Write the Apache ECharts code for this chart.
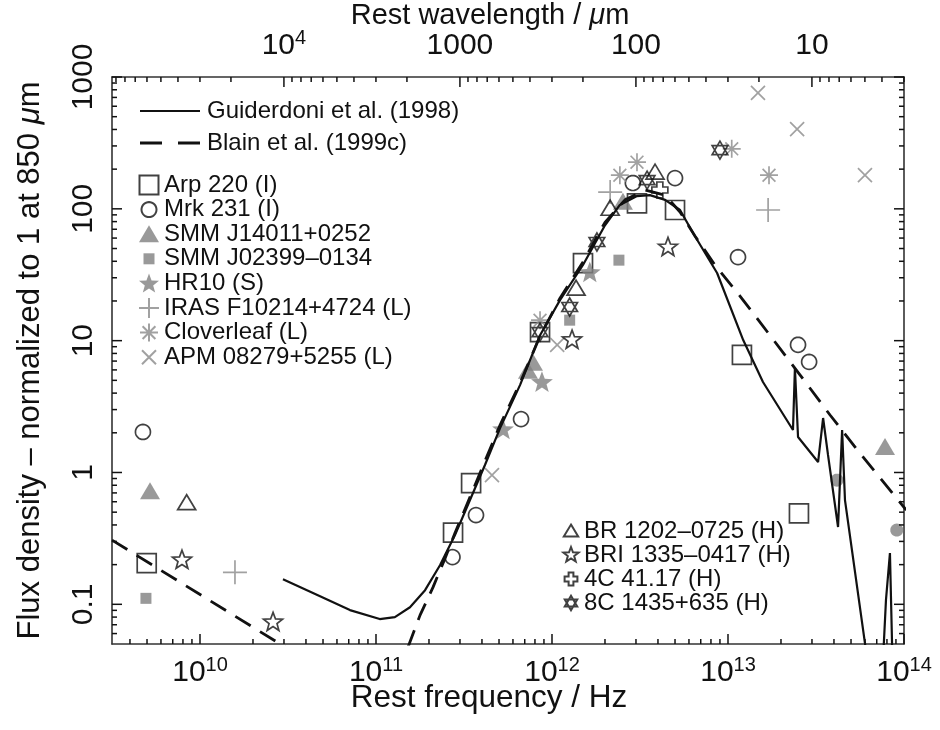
<!DOCTYPE html>
<html>
<head>
<meta charset="utf-8">
<title>SED comparison</title>
<script src="https://cdn.jsdelivr.net/npm/echarts@6/dist/echarts.min.js"></script>
<style>
html, body { margin: 0; padding: 0; background: #fff; }
#main { width: 940px; height: 730px; }
</style>
</head>
<body>
<div id="main"></div>
<script>
// c in micron*Hz, used for the top (wavelength) axis
const C_UM = 2.998e14;

// axis ranges
const freqRange = [3.1623e9, 1e14];
const fluxRange = [0.05, 1000];

// tick labels
const freqTicks = [1e10, 1e11, 1e12, 1e13, 1e14];
const waveTicks = [1e4, 1000, 100, 10];
const fluxTicks = [0.1, 1, 10, 100, 1000];
const fluxTickLabels = ['0.1', '1', '10', '100', '1000'];

// model curves, [rest frequency Hz, normalised flux]
const guiderdoni = [
  [2.96e10, 0.155], [4.81e10, 0.115], [7.11e10, 0.0904], [1.05e11, 0.0773], [1.28e11, 0.080],
  [1.56e11, 0.095], [1.90e11, 0.128], [2.31e11, 0.198], [2.81e11, 0.335], [3.42e11, 0.618],
  [4.16e11, 1.14], [5.07e11, 2.17], [6.58e11, 4.6], [8.55e11, 11.0], [1.11e12, 20.3],
  [1.50e12, 37.5], [2.00e12, 75], [2.43e12, 107], [3.04e12, 125], [3.60e12, 127],
  [4.39e12, 117], [5.34e12, 98], [6.33e12, 65.5], [8.67e12, 32.6], [1.22e13, 10.1],
  [1.58e13, 4.86], [2.34e13, 2.10], [2.40e13, 6.2], [2.50e13, 1.86], [3.25e13, 1.20],
  [3.47e13, 2.59], [3.70e13, 1.36], [4.22e13, 0.386], [4.45e13, 2.10], [4.62e13, 0.618],
  [6.0e13, 0.0508], [6.41e13, 0.0266], [7.5e13, 0.0266], [7.9e13, 0.108], [8.32e13, 0.245],
  [8.65e13, 0.0266]
];
const blainLow = [[3.1623e9, 0.307], [3.24e10, 0.045]];
const blainHigh = [
  [1.52e11, 0.0473], [1.78e11, 0.0828], [2.11e11, 0.135], [2.47e11, 0.224], [2.81e11, 0.347],
  [3.42e11, 0.65], [4.16e11, 1.22], [5.07e11, 2.29], [6.58e11, 4.77], [8.55e11, 10.8],
  [1.11e12, 21], [1.50e12, 39.5], [2.00e12, 79], [2.60e12, 117], [3.38e12, 139],
  [4.39e12, 127], [5.34e12, 94.6], [6.49e12, 62.2], [8.43e12, 37.5], [1.17e13, 21.8],
  [1.73e13, 11.0], [2.57e13, 5.48], [3.80e13, 2.73], [5.62e13, 1.40], [1.03e14, 0.519]
];

// observed galaxies
const arp220 = [[4.98e9, 0.205], [2.74e11, 0.35], [3.47e11, 0.83], [8.55e11, 11.6], [1.50e12, 38.8],
  [3.04e12, 110], [5.0e12, 98], [1.20e13, 7.8], [2.53e13, 0.49]];
const mrk231 = [[4.74e9, 2.03], [2.72e11, 0.228], [3.70e11, 0.475], [6.67e11, 2.54], [2.88e12, 157],
  [5.0e12, 171], [1.14e13, 43], [2.50e13, 9.3], [2.89e13, 6.9]];
const smm14011 = [[5.2e9, 0.72], [7.8e11, 6.8], [7.3e11, 5.9], [2.53e12, 113], [7.8e13, 1.56]];
const smm02399 = [[4.93e9, 0.111], [1.26e12, 14.3], [2.40e12, 40.8]];
const smm02399b = [[4.16e13, 0.875], [9.1e13, 0.366]];
const hr10 = [[5.27e11, 2.1], [8.77e11, 4.8], [1.64e12, 32.6]];
const iras10214 = [[1.58e10, 0.175], [2.14e12, 134], [1.69e13, 98]];
const cloverleaf = [[8.55e11, 14.3], [2.43e12, 180], [3.04e12, 226], [1.05e13, 285], [1.71e13, 180]];
const apm08279 = [[4.56e11, 0.955], [1.07e12, 9.3], [1.48e13, 757], [2.47e13, 403], [6.0e13, 180]];
const br1202 = [[8.4e9, 0.59], [1.37e12, 25], [2.14e12, 101], [3.85e12, 190]];
const bri1335 = [[7.9e9, 0.216], [2.6e10, 0.073], [1.30e12, 10.1], [4.56e12, 51]];
const c4117 = [[4.1e12, 139]];
const c81435 = [[8.55e11, 11.6], [1.26e12, 18], [1.80e12, 56], [3.47e12, 165], [9.0e12, 279]];

const lg = Math.log10;
const toLog = arr => arr.map(p => [lg(p[0]), lg(p[1])]);

// marker outlines; padded boxes keep the relative sizes when ECharts scales them
function poly(pts) {
  return pts.map((p, i) => (i ? 'L' : 'M') + p[0].toFixed(2) + ',' + p[1].toFixed(2)).join(' ') + ' Z ';
}
function starPts(n, r1, r2) {
  const pts = [];
  for (let i = 0; i < 2 * n; i++) {
    const r = i % 2 ? r2 : r1, a = -Math.PI / 2 + i * Math.PI / n;
    pts.push([r * Math.cos(a), r * Math.sin(a)]);
  }
  return pts;
}
function circlePts(r) {
  const pts = [];
  for (let i = 0; i < 32; i++) {
    const a = i * Math.PI / 16;
    pts.push([r * Math.cos(a), r * Math.sin(a)]);
  }
  return pts;
}
const SHAPES = {
  square: poly([[-9.5, -9.5], [9.5, -9.5], [9.5, 9.5], [-9.5, 9.5]]),
  circle: poly(circlePts(7.5)),
  triFill: poly([[0, -9], [10, 8], [-10, 8]]),
  smallSquare: poly([[-5.5, -5.5], [5.5, -5.5], [5.5, 5.5], [-5.5, 5.5]]),
  dot: poly(circlePts(6.5)),
  starFill: poly(starPts(5, 11.5, 4.8)),
  plus: 'M-12,0 L12,0 M0,-12 L0,12',
  asterisk: 'M-9,0 L9,0 M0,-9 L0,9 M-6.4,-6.4 L6.4,6.4 M-6.4,6.4 L6.4,-6.4',
  cross: 'M-7,-7 L7,7 M-7,7 L7,-7',
  triOpen: poly([[0, -8], [9, 7], [-9, 7]]),
  starOpen: poly(starPts(5, 10, 4.2)),
  greek: poly([[-3, -8], [3, -8], [3, -3], [8, -3], [8, 3], [3, 3], [3, 8], [-3, 8], [-3, 3], [-8, 3], [-8, -3], [-3, -3]]),
  david: poly([[0, -9], [7.8, 4.5], [-7.8, 4.5]]) + poly([[0, 9], [7.8, -4.5], [-7.8, -4.5]])
};
const SYM = {}, LEG = {};
Object.keys(SHAPES).forEach(k => {
  SYM[k] = 'path://M-13,-13 L-13,-13 M13,13 L13,13 ' + SHAPES[k];
  LEG[k] = 'path://M-10,-10 L-10,-10 M10,10 L10,10 ' + SHAPES[k];
});

const GREY = '#808080';
const CLEAR = 'rgba(0,0,0,0)';
const openBlack = { color: CLEAR, borderColor: '#111', borderWidth: 1.7 };
const lineGrey = { color: CLEAR, borderColor: '#8a8a8a', borderWidth: 1.7 };
const fillGrey = { color: GREY, borderWidth: 0 };

function pts(name, data, symbol, itemStyle) {
  return {
    name: name, type: 'scatter', data: toLog(data), symbol: SYM[symbol], symbolSize: 26,
    itemStyle: itemStyle, xAxisIndex: 0, yAxisIndex: 0, z: 3
  };
}

// tick positions in log space
const xLo = lg(freqRange[0]), xHi = lg(freqRange[1]);
const yLo = lg(fluxRange[0]), yHi = lg(fluxRange[1]);
const xMinor = [], waveMinor = [], yMinor = [];
[9, 10, 11, 12, 13].forEach(d => {
  for (let k = 2; k <= 9; k++) if (d + lg(k) > xLo && d + lg(k) < xHi) xMinor.push(d + lg(k));
});
[0, 1, 2, 3, 4, 5].forEach(n => {
  for (let k = 2; k <= 9; k++) {
    const v = lg(C_UM / (k * Math.pow(10, n)));
    if (v > xLo && v < xHi) waveMinor.push(v);
  }
});
[-2, -1, 0, 1, 2].forEach(d => {
  for (let k = 2; k <= 9; k++) if (d + lg(k) > yLo && d + lg(k) < yHi) yMinor.push(d + lg(k));
});

const FONT = 'Liberation Sans, Arial, Helvetica, sans-serif';
const INK = '#111';
const frameLine = { color: '#333', width: 1.6 };
const richLabel = {
  b: { fontSize: 30, fontFamily: FONT, color: INK, lineHeight: 36 },
  s: { fontSize: 20, fontFamily: FONT, color: INK, verticalAlign: 'top' }
};
const powLabel = n => '{b|10}{s|' + n + '}';
function titleStyle(size, padRight) {
  return {
    fontSize: size, fontFamily: FONT, color: INK, padding: [0, padRight, 0, 0],
    rich: {
      t: { fontSize: size, fontFamily: FONT, color: INK },
      i: { fontSize: size, fontFamily: FONT, color: INK, fontStyle: 'italic' }
    }
  };
}
function frameX(position, ticks, labelFn, name, nameGap, nameStyle) {
  return {
    type: 'value', position: position, min: xLo, max: xHi,
    axisLine: { show: true, onZero: false, lineStyle: frameLine },
    axisTick: { show: false },
    axisLabel: { show: true, customValues: ticks, margin: position === 'bottom' ? 11 : 13, formatter: labelFn, rich: richLabel },
    splitLine: { show: false },
    name: name, nameLocation: 'middle', nameGap: nameGap, nameMoveOverlap: false, nameTextStyle: nameStyle
  };
}

const legendLines = [
  { type: 'line', shape: { x1: 140, y1: 111, x2: 200, y2: 111 }, style: { stroke: INK, lineWidth: 2.2 } },
  { type: 'line', shape: { x1: 140, y1: 143, x2: 200, y2: 143 }, style: { stroke: INK, lineWidth: 2.8, lineDash: [22, 16] } },
  { type: 'text', x: 207, y: 111, style: { text: 'Guiderdoni et al. (1998)', fill: INK, font: '24px ' + FONT, verticalAlign: 'middle' } },
  { type: 'text', x: 207, y: 143, style: { text: 'Blain et al. (1999c)', fill: INK, font: '24px ' + FONT, verticalAlign: 'middle' } }
];

const option = {
  animation: false,
  backgroundColor: '#fff',
  textStyle: { fontFamily: FONT },
  grid: { left: 112, right: 36, top: 77, bottom: 86, containLabel: false, outerBoundsMode: 'none' },
  graphic: legendLines,
  legend: [
    {
      data: [
        { name: 'Arp 220 (I)', icon: LEG.square },
        { name: 'Mrk 231 (I)', icon: LEG.circle },
        { name: 'SMM J14011+0252', icon: LEG.triFill },
        { name: 'SMM J02399–0134', icon: LEG.smallSquare },
        { name: 'HR10 (S)', icon: LEG.starFill },
        { name: 'IRAS F10214+4724 (L)', icon: LEG.plus },
        { name: 'Cloverleaf (L)', icon: LEG.asterisk },
        { name: 'APM 08279+5255 (L)', icon: LEG.cross }
      ],
      orient: 'vertical', left: 138, top: 173, itemWidth: 20, itemHeight: 20, itemGap: 0.6,
      padding: 0, selectedMode: false,
      textStyle: { fontSize: 24, color: INK, fontFamily: FONT }
    },
    {
      data: [
        { name: 'BR 1202–0725 (H)', icon: LEG.triOpen },
        { name: 'BRI 1335–0417 (H)', icon: LEG.starOpen },
        { name: '4C 41.17 (H)', icon: LEG.greek },
        { name: '8C 1435+635 (H)', icon: LEG.david }
      ],
      orient: 'vertical', left: 562, top: 519, itemWidth: 16, itemHeight: 16, itemGap: 0,
      padding: 0, selectedMode: false,
      textStyle: { fontSize: 24, color: INK, fontFamily: FONT }
    }
  ],
  xAxis: [
    frameX('bottom', freqTicks.map(lg), v => powLabel(Math.round(v)),
      'Rest frequency / Hz', 38, titleStyle(31.5, 38)),
    frameX('top', waveTicks.map(w => lg(C_UM / w)), v => {
      const n = Math.round(lg(C_UM) - v);
      return n >= 4 ? powLabel(n) : '{b|' + Math.pow(10, n) + '}';
    }, '{t|Rest wavelength / }{i|μ}{t|m}', 47, titleStyle(29, 36))
  ],
  yAxis: [
    {
      type: 'value', position: 'left', min: yLo, max: yHi,
      axisLine: { show: true, onZero: false, lineStyle: frameLine },
      axisTick: { show: false },
      axisLabel: {
        show: true, customValues: fluxTicks.map(lg), rotate: 90, margin: 13,
        fontSize: 30, lineHeight: 30, color: INK, fontFamily: FONT,
        formatter: v => fluxTickLabels[fluxTicks.findIndex(t => Math.abs(lg(t) - v) < 1e-6)]
      },
      splitLine: { show: false },
      name: '{t|Flux density – normalized to 1 at 850 }{i|μ}{t|m}',
      nameLocation: 'middle', nameGap: 66, nameRotate: 90, nameMoveOverlap: false,
      nameTextStyle: titleStyle(31, 0)
    },
    {
      type: 'value', position: 'right', min: yLo, max: yHi,
      axisLine: { show: true, onZero: false, lineStyle: frameLine },
      axisTick: { show: false },
      axisLabel: { show: false },
      splitLine: { show: false }
    }
  ],
  series: [
    {
      name: 'Guiderdoni et al. (1998)', type: 'line', data: toLog(guiderdoni), symbol: 'none',
      lineStyle: { color: INK, width: 2.2 }, itemStyle: { color: INK }, z: 4
    },
    {
      name: 'Blain et al. (1999c)', type: 'line', data: toLog(blainLow), symbol: 'none',
      lineStyle: { color: INK, width: 2.8, type: [18, 11] }, itemStyle: { color: INK }, z: 4
    },
    {
      name: 'Blain et al. (1999c)', type: 'line', data: toLog(blainHigh), symbol: 'none',
      lineStyle: { color: INK, width: 2.8, type: [18, 11] }, itemStyle: { color: INK }, z: 4
    },
    pts('Arp 220 (I)', arp220, 'square', openBlack),
    pts('Mrk 231 (I)', mrk231, 'circle', openBlack),
    pts('SMM J14011+0252', smm14011, 'triFill', fillGrey),
    pts('SMM J02399–0134', smm02399, 'smallSquare', fillGrey),
    pts('SMM J02399–0134 (mid-IR)', smm02399b, 'dot', fillGrey),
    pts('HR10 (S)', hr10, 'starFill', fillGrey),
    pts('IRAS F10214+4724 (L)', iras10214, 'plus', lineGrey),
    pts('Cloverleaf (L)', cloverleaf, 'asterisk', lineGrey),
    pts('APM 08279+5255 (L)', apm08279, 'cross', lineGrey),
    pts('BR 1202–0725 (H)', br1202, 'triOpen', openBlack),
    pts('BRI 1335–0417 (H)', bri1335, 'starOpen', openBlack),
    pts('4C 41.17 (H)', c4117, 'greek', openBlack),
    pts('8C 1435+635 (H)', c81435, 'david', openBlack)
  ]
};

const chart = echarts.init(document.getElementById('main'), null, { renderer: 'canvas' });
chart.setOption(option);

// frame ticks: positions come from the chart's own scales
const toPx = (x, y) => chart.convertToPixel({ seriesIndex: 0 }, [x, y]);
const tickGraphics = [];
function addTicks(values, side, len) {
  const dir = { bottom: [0, -1], top: [0, 1], left: [1, 0], right: [-1, 0] }[side];
  values.forEach(v => {
    const p = side === 'bottom' ? toPx(v, yLo) : side === 'top' ? toPx(v, yHi)
      : side === 'left' ? toPx(xLo, v) : toPx(xHi, v);
    tickGraphics.push({
      type: 'line', silent: true, z: 20,
      shape: { x1: p[0], y1: p[1], x2: p[0] + dir[0] * len, y2: p[1] + dir[1] * len },
      style: { stroke: '#111', lineWidth: 1.5 }
    });
  });
}
addTicks(freqTicks.map(lg), 'bottom', 10);
addTicks(xMinor, 'bottom', 5);
addTicks(waveTicks.map(w => lg(C_UM / w)), 'top', 10);
addTicks(waveMinor, 'top', 5);
addTicks(fluxTicks.map(lg), 'left', 10);
addTicks(yMinor, 'left', 5);
addTicks(fluxTicks.map(lg), 'right', 10);
addTicks(yMinor, 'right', 5);
chart.setOption({ graphic: legendLines.concat(tickGraphics) });
</script>
</body>
</html>
